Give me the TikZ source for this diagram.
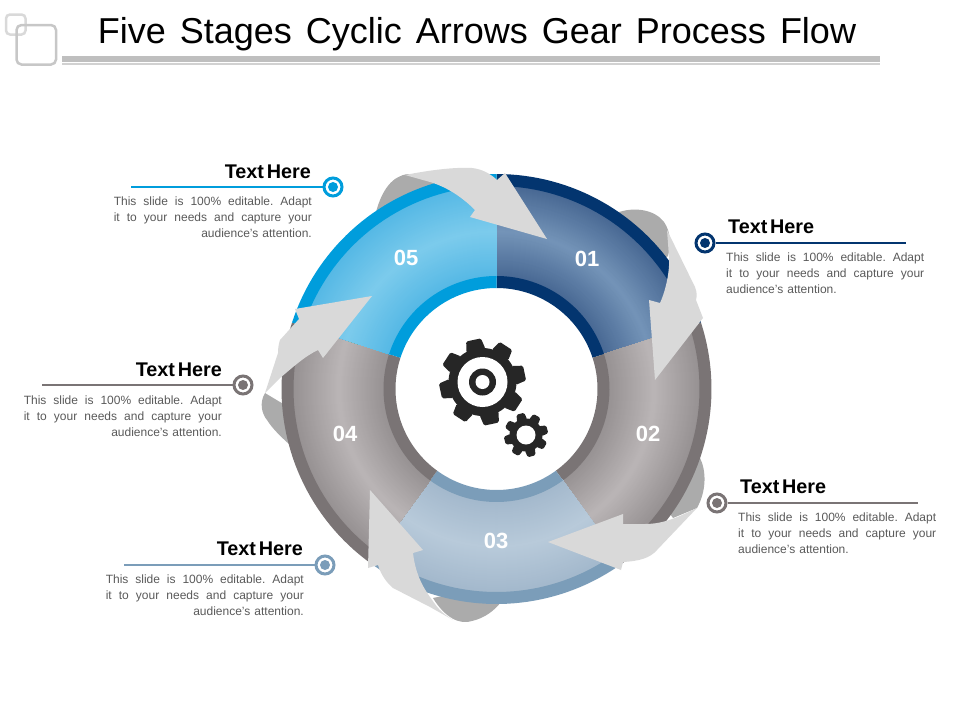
\documentclass[tikz,border=0pt]{standalone}
\usepackage{fontspec}
\setmainfont{Liberation Sans}
\definecolor{cone}{HTML}{03356F}
\definecolor{ctwo}{HTML}{7A7475}
\definecolor{cthree}{HTML}{7B9DB9}
\definecolor{cfive}{HTML}{009DDC}
\definecolor{leafc}{HTML}{ABABAB}
\definecolor{arrowc}{HTML}{D9D9D9}
\definecolor{bodyc}{HTML}{595959}
\definecolor{gearc}{HTML}{262626}
\definecolor{eone}{HTML}{486893}\definecolor{rone}{HTML}{7494B8}
\definecolor{etwo}{HTML}{969192}\definecolor{rtwo}{HTML}{BAB5B6}
\definecolor{ethree}{HTML}{A3B8CC}\definecolor{rthree}{HTML}{B8CADA}
\definecolor{efive}{HTML}{55B8E5}\definecolor{rfive}{HTML}{7CCBEC}
\tikzset{
  leaf/.style={fill=leafc,draw=none},
  bigarrow/.style={fill=arrowc,draw=none},
  headtext/.style={font=\bfseries\fontsize{19.8}{19.8}\selectfont,inner sep=0pt,text=black},
  num/.style={font=\bfseries\fontsize{22}{22}\selectfont,text=white,inner sep=0pt},
  bodytext/.style={font=\fontsize{12}{16}\selectfont,text=bodyc,inner sep=0pt,align=left,text width=198pt},
  dotring/.style={circle,draw=#1,line width=3pt,fill=white,minimum size=18pt,inner sep=0pt},
  leader/.style={line width=1.8pt}
}
\newcommand{\ringpath}[4]{plot[domain=#1:#2,samples=40] ({496.5+#3*cos(\x)},{389-#3*sin(\x)}) -- plot[domain=#2:#1,samples=40] ({496.5+#4*cos(\x)},{389-#4*sin(\x)}) -- cycle}
\newcommand{\segment}[5]{%
  \begin{scope}
    \clip \ringpath{#1}{#2}{112}{204};
    \foreach \r in {204,203,...,112}{
      \pgfmathtruncatemacro{\t}{100*abs(\r-158)/46}
      \fill[color={#3!\t!#4}] (496.5,389) circle[radius=\r pt];
    }
  \end{scope}
  \fill[#5] \ringpath{#1}{#2}{101}{113};
  \fill[#5] \ringpath{#1}{#2}{203}{215};
}
\newcommand{\gear}[6]{% x y rot tip root halfwidth
  \begin{scope}[shift={(#1,#2)},rotate=#3]
    \fill[gearc] (0,0) circle[radius=#5pt];
    \foreach \a in {0,45,...,315}{
      \fill[gearc,rounded corners=1.5pt,rotate=\a] ({#5-2},{-#6*1.3}) -- ({#4},{-#6}) -- ({#4},{#6}) -- ({#5-2},{#6*1.3}) -- cycle;
    }
  \end{scope}
}
\newcommand{\spreadline}[1]{\makebox[198pt][s]{\spaceskip=0pt\xspaceskip=0pt\frenchspacing #1}}
\newcommand{\bodyleft}{\spreadline{This slide is 100\% editable. Adapt}\\\spreadline{it to your needs and capture your}\\\makebox[198pt][r]{audience's attention.}}
\newcommand{\bodyright}{\spreadline{This slide is 100\% editable. Adapt}\\\spreadline{it to your needs and capture your}\\\makebox[198pt][l]{audience's attention.}}
\newcommand{\headlabel}{Text\hspace{-2.8pt} Here}
\begin{document}
\begin{tikzpicture}[x=1pt,y=-1pt]
\useasboundingbox (0,0) rectangle (960,720);
% header
\draw[line width=2.5pt,draw=arrowc,rounded corners=4pt] (6,14.5) rectangle (25.5,34.5);
\draw[line width=2.5pt,draw=black!22,rounded corners=5pt] (16.5,25) rectangle (56,64.5);
\fill[black!25] (62,56) rectangle (880,61.5);
\fill[black!18] (62,63) rectangle (880,64.5);
\node[font=\fontsize{36}{36}\selectfont,inner sep=0pt] (title) at (477,34) {Five\hspace{4pt} Stages\hspace{4pt} Cyclic\hspace{4pt} Arrows\hspace{4pt} Gear\hspace{4pt} Process\hspace{4pt} Flow};
% leaves behind ring
\fill[leaf] (376,212) .. controls (382,190) and (392,176) .. (408,174) -- (440,178) -- (440,215) -- cycle;
\fill[leaf] (616,213) .. controls (635,206) and (655,210) .. (664,222) .. controls (671,232) and (671,245) .. (668,256) -- (650,270) -- cycle;
\fill[leaf] (700,458) .. controls (706,470) and (707,490) .. (697,508) -- (673,518) -- (660,500) -- cycle;
\fill[leaf] (433,598) .. controls (445,618) and (460,625) .. (472,621) .. controls (485,618) and (495,610) .. (501,602) -- (470,590) -- cycle;
\fill[leaf] (265,393) .. controls (259,403) and (262,414) .. (267,420) .. controls (272,428) and (280,436) .. (290,445) -- (310,420) -- cycle;
% ring
\segment{18}{90}{eone}{rone}{cone}
\segment{-54}{18}{etwo}{rtwo}{ctwo}
\segment{-126}{-54}{ethree}{rthree}{cthree}
\segment{162}{234}{etwo}{rtwo}{ctwo}
\segment{90}{162}{efive}{rfive}{cfive}
% gears
\gear{482.5}{382}{12}{43}{34}{7.5}
\fill[white] (482.5,382) circle[radius=25pt];
\fill[gearc] (482.5,382) circle[radius=13.5pt];
\fill[white] (482.5,382) circle[radius=7pt];
\gear{526}{435}{15}{22}{16.5}{4}
\fill[white] (526,435) circle[radius=9.5pt];
% light arrows
\fill[bigarrow] (405,175) .. controls (430,170) and (455,167) .. (472,168) .. controls (482,169) and (491,174) .. (497,180) -- (505,173) -- (547,239) -- (470,217) -- (475,210) .. controls (465,200) and (450,188) .. (430,182) -- cycle;
\fill[bigarrow] (667,230) -- (695,287) .. controls (697,292) and (697,296) .. (696,300) -- (703,318) -- (655,380) -- (649,300) -- (660,303) .. controls (666,290) and (670,270) .. (669,257) -- cycle;
\fill[bigarrow] (697,508) .. controls (680,516) and (665,524) .. (645,524) -- (623,524) -- (623,514) -- (548,542) -- (621,570) -- (623,562) .. controls (640,561) and (650,558) .. (657,550) -- cycle;
\fill[bigarrow] (453,620) .. controls (440,612) and (437,607) .. (430,597) .. controls (420,583) and (415,570) .. (413,553) -- (423,550) -- (370,490) -- (368,568) -- (378,565) .. controls (381,575) and (387,583) .. (393,588) -- (430,607) -- cycle;
\fill[bigarrow] (265,393) -- (278,353) .. controls (278,347) and (279,343) .. (280,340) -- (299,319) -- (295,309) -- (372,296) -- (323,358) -- (318,350) .. controls (305,356) and (292,368) .. (280,378) -- cycle;
% numbers
\node[num] (n1) at (587,259) {01};
\node[num] (n2) at (648,434) {02};
\node[num] (n3) at (496,541) {03};
\node[num] (n4) at (345,434) {04};
\node[num] (n5) at (406,258) {05};
% labels
\node[dotring=cfive] (d5) at (333,187) {};
\fill[cfive] (d5.center) circle[radius=5pt];
\coordinate (e5) at (131,187);
\draw[leader,cfive] (d5) -- (e5);
\node[headtext,anchor=east] (h5) at (311,172) {\headlabel};
\node[bodytext,anchor=north east] (b5) at (312,197) {\bodyleft};
\node[dotring=cone] (d1) at (705,243) {};
\fill[cone] (d1.center) circle[radius=5pt];
\coordinate (e1) at (906,243);
\draw[leader,cone] (d1) -- (e1);
\node[headtext,anchor=west] (h1) at (728,227) {\headlabel};
\node[bodytext,anchor=north west] (b1) at (726,253) {\bodyright};
\node[dotring=ctwo] (d2) at (717,503) {};
\fill[ctwo] (d2.center) circle[radius=5pt];
\coordinate (e2) at (918,503);
\draw[leader,ctwo] (d2) -- (e2);
\node[headtext,anchor=west] (h2) at (740,487) {\headlabel};
\node[bodytext,anchor=north west] (b2) at (738,513) {\bodyright};
\node[dotring=cthree] (d3) at (325,565) {};
\fill[cthree] (d3.center) circle[radius=5pt];
\coordinate (e3) at (124,565);
\draw[leader,cthree] (d3) -- (e3);
\node[headtext,anchor=east] (h3) at (303,549) {\headlabel};
\node[bodytext,anchor=north east] (b3) at (304,575) {\bodyleft};
\node[dotring=ctwo] (d4) at (243,385) {};
\fill[ctwo] (d4.center) circle[radius=5pt];
\coordinate (e4) at (42,385);
\draw[leader,ctwo] (d4) -- (e4);
\node[headtext,anchor=east] (h4) at (222,370) {\headlabel};
\node[bodytext,anchor=north east] (b4) at (222,396) {\bodyleft};
\end{tikzpicture}
\end{document}
